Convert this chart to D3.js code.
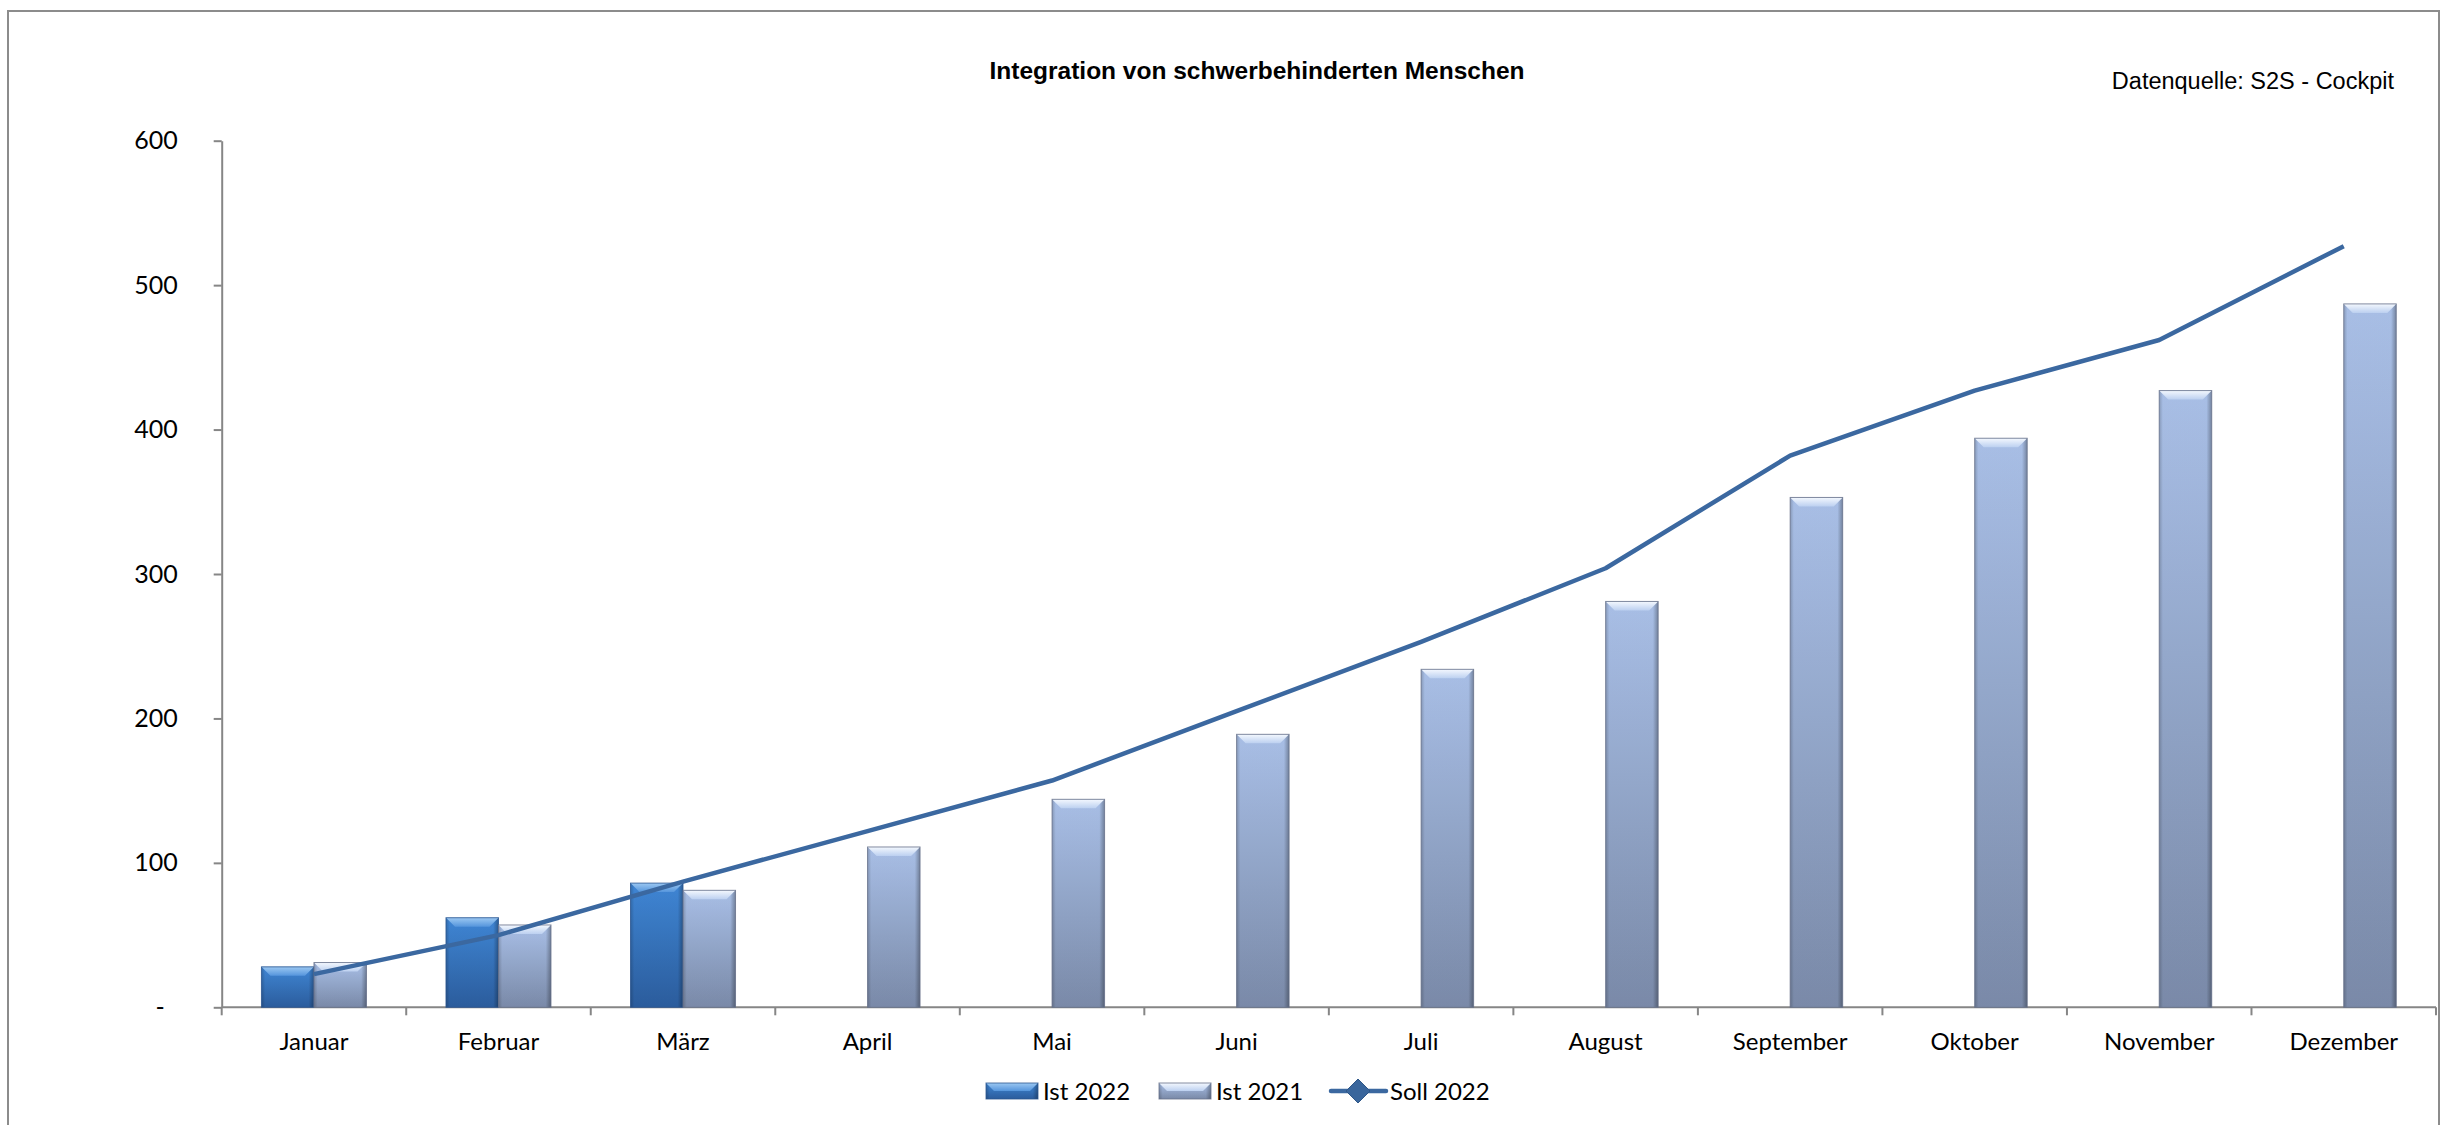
<!DOCTYPE html>
<html>
<head>
<meta charset="utf-8">
<script src="https://cdn.jsdelivr.net/npm/d3@7"></script>
<style>
  body { margin: 0; background: #fff; }
  svg { display: block; }
</style>
</head>
<body>
<script>
// months / series
var months = ['Januar', 'Februar', 'März', 'April', 'Mai', 'Juni', 'Juli', 'August', 'September', 'Oktober', 'November', 'Dezember']
var ist2022 = [28, 62, 86]
var ist2021 = [31, 57, 81, 111, 144, 189, 234, 281, 353, 394, 427, 487]
var soll2022 = [23, 50, 87, 122, 157, 205, 253, 304, 382, 427, 462, 527]
var yTicks = [0, 100, 200, 300, 400, 500, 600]
var seriesNames = ['Ist 2022', 'Ist 2021', 'Soll 2022']

var width = 2442,
    height = 1125;

var plotLeft = 221.7,
    plotRight = 2436,
    plotTop = 140.7,
    plotBottom = 1007.3;

var labelFont = "Lato, 'Open Sans', sans-serif"
var arialFont = "'Liberation Sans', Arial, sans-serif"

var svg = d3.select("body")
  .append("svg")
  .attr("width", width)
  .attr("height", height)

var defs = svg.append("defs")

function vGrad(id, stops) {
  var g = defs.append("linearGradient")
    .attr("id", id)
    .attr("x1", 0).attr("y1", 0).attr("x2", 0).attr("y2", 1)
  stops.forEach(function(s) {
    g.append("stop").attr("offset", s[0]).attr("stop-color", s[1])
  })
}

vGrad("body22", [["0%", "#4088d8"], ["100%", "#2c5e9f"]])
vGrad("top22", [["0%", "#9cc8f2"], ["100%", "#5595dc"]])
vGrad("body21", [["0%", "#abc2ea"], ["100%", "#7c8cab"]])
vGrad("top21", [["0%", "#f4f8fe"], ["100%", "#bcd0f0"]])

// dark edges left / right for the bevel look
var edge = defs.append("linearGradient")
  .attr("id", "edge")
  .attr("x1", 0).attr("y1", 0).attr("x2", 1).attr("y2", 0)
edge.append("stop").attr("offset", "0%").attr("stop-color", "#000").attr("stop-opacity", 0.2)
edge.append("stop").attr("offset", "7%").attr("stop-color", "#000").attr("stop-opacity", 0.02)
edge.append("stop").attr("offset", "90%").attr("stop-color", "#000").attr("stop-opacity", 0.02)
edge.append("stop").attr("offset", "100%").attr("stop-color", "#000").attr("stop-opacity", 0.32)

// outer frame
svg.append("rect")
  .attr("x", 8)
  .attr("y", 11)
  .attr("width", 2431)
  .attr("height", 1140)
  .attr("fill", "none")
  .attr("stroke", "#8c8c8c")
  .attr("stroke-width", 2)

var xScale = d3.scaleBand().domain(months).range([plotLeft, plotRight]).paddingInner(0).paddingOuter(0)
var xInner = d3.scaleBand().domain(['Ist 2022', 'Ist 2021']).range([0, xScale.bandwidth()]).paddingInner(0).paddingOuter(0.757)
var yScale = d3.scaleLinear().domain([0, 600]).range([plotBottom, plotTop])

// title + source
svg.append("text")
  .attr("x", 1257)
  .attr("y", 79)
  .attr("text-anchor", "middle")
  .attr("font-family", arialFont)
  .attr("font-weight", "bold")
  .attr("font-size", 24.5)
  .text("Integration von schwerbehinderten Menschen")

svg.append("text")
  .attr("x", 2394)
  .attr("y", 89)
  .attr("text-anchor", "end")
  .attr("font-family", arialFont)
  .attr("font-size", 23.5)
  .text("Datenquelle: S2S - Cockpit")

// y axis
var yAxis = svg.append("g")
  .attr("transform", "translate(" + plotLeft + " 0)")
  .call(d3.axisLeft(yScale)
    .tickValues(yTicks)
    .tickSize(8)
    .tickSizeOuter(0)
    .tickPadding(36)
    .tickFormat(function(d) { return d === 0 ? "-" : d }))

yAxis.select(".domain").attr("stroke", "#868686").attr("stroke-width", 2)
yAxis.selectAll(".tick line").attr("stroke", "#868686").attr("stroke-width", 2)
yAxis.selectAll(".tick text")
  .attr("font-family", labelFont)
  .attr("font-size", 25)
  .attr("fill", "#000")
  .attr("dx", function(d) { return d === 0 ? -13 : 0 })

// x axis: baseline, ticks between months, labels centered
var xAxis = svg.append("g")

xAxis.append("line")
  .attr("x1", plotLeft)
  .attr("x2", plotRight)
  .attr("y1", plotBottom)
  .attr("y2", plotBottom)
  .attr("stroke", "#868686")
  .attr("stroke-width", 2)

var boundaries = months.map(function(m) { return xScale(m) }).concat([plotRight])

xAxis.selectAll(".xtick")
  .data(boundaries)
  .enter().append("line")
  .attr("class", "xtick")
  .attr("x1", function(d) { return d })
  .attr("x2", function(d) { return d })
  .attr("y1", plotBottom)
  .attr("y2", plotBottom + 8)
  .attr("stroke", "#868686")
  .attr("stroke-width", 2)

xAxis.selectAll(".xlabel")
  .data(months)
  .enter().append("text")
  .attr("class", "xlabel")
  .attr("x", function(d) { return xScale(d) + xScale.bandwidth() / 2 })
  .attr("y", 1050)
  .attr("text-anchor", "middle")
  .attr("font-family", labelFont)
  .attr("font-size", 24)
  .text(function(d) { return d })

// bevelled bar: body, edge shading, top facet
function drawBar(g, x, y, w, h, kind) {
  var b = Math.min(9, h / 2)
  g.append("rect")
    .attr("x", x).attr("y", y).attr("width", w).attr("height", h)
    .attr("fill", "url(#body" + kind + ")")
  g.append("rect")
    .attr("x", x).attr("y", y).attr("width", w).attr("height", h)
    .attr("fill", "url(#edge)")
  g.append("polygon")
    .attr("points", [[x, y], [x + w, y], [x + w - b, y + b], [x + b, y + b]].join(" "))
    .attr("fill", "url(#top" + kind + ")")
  g.append("rect")
    .attr("x", x).attr("y", y).attr("width", w).attr("height", h)
    .attr("fill", "none")
    .attr("stroke", kind === "22" ? "#2a5590" : "#66708a")
    .attr("stroke-width", 1)
    .attr("stroke-opacity", 0.8)
}

var bars = svg.append("g")

ist2022.forEach(function(v, i) {
  var x = xScale(months[i]) + xInner('Ist 2022')
  drawBar(bars, x, yScale(v), xInner.bandwidth(), yScale(0) - yScale(v), "22")
})

ist2021.forEach(function(v, i) {
  var x = xScale(months[i]) + xInner('Ist 2021')
  drawBar(bars, x, yScale(v), xInner.bandwidth(), yScale(0) - yScale(v), "21")
})

// Soll line
var line = d3.line()
  .x(function(d, i) { return xScale(months[i]) + xScale.bandwidth() / 2 })
  .y(function(d) { return yScale(d) })

svg.append("path")
  .datum(soll2022)
  .attr("d", line)
  .attr("fill", "none")
  .attr("stroke", "#3b68a0")
  .attr("stroke-width", 4.5)
  .attr("stroke-linejoin", "round")

// legend
var legend = svg.append("g")
var legY = 1091

var leg22 = legend.append("g")
drawBar(leg22, 986, legY - 8, 52, 16, "22")
legend.append("text")
  .attr("x", 1043).attr("y", legY + 9)
  .attr("font-family", labelFont).attr("font-size", 24)
  .text(seriesNames[0])

var leg21 = legend.append("g")
drawBar(leg21, 1159, legY - 8, 52, 16, "21")
legend.append("text")
  .attr("x", 1216).attr("y", legY + 9)
  .attr("font-family", labelFont).attr("font-size", 24)
  .text(seriesNames[1])

legend.append("line")
  .attr("x1", 1331).attr("x2", 1386)
  .attr("y1", legY).attr("y2", legY)
  .attr("stroke", "#3b68a0")
  .attr("stroke-width", 4.5)
  .attr("stroke-linecap", "round")

legend.append("path")
  .attr("d", "M1358," + (legY - 12) + "L1370," + legY + "L1358," + (legY + 12) + "L1346," + legY + "Z")
  .attr("fill", "#3a669c")
  .attr("stroke", "#2f5788")
  .attr("stroke-width", 1)

legend.append("text")
  .attr("x", 1390).attr("y", legY + 9)
  .attr("font-family", labelFont).attr("font-size", 24)
  .text(seriesNames[2])
</script>
</body>
</html>
